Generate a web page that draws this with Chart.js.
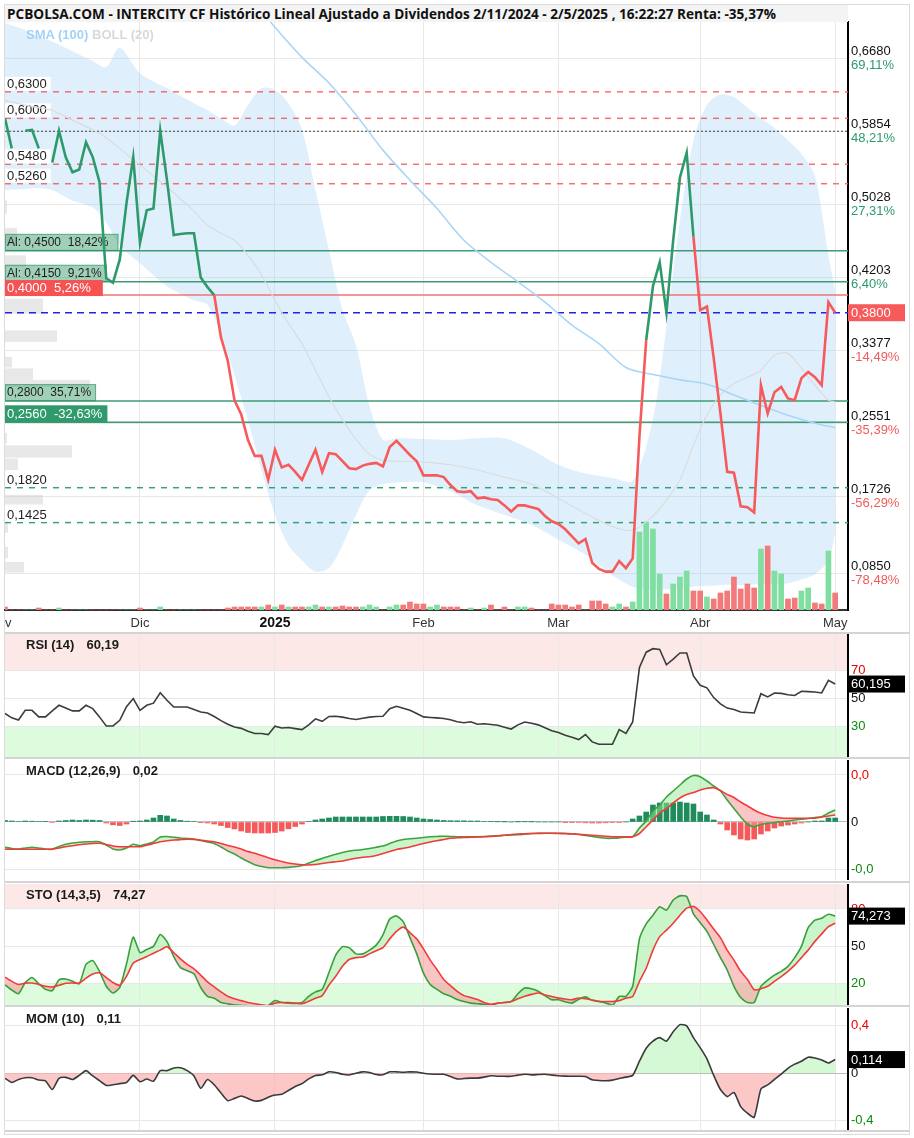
<!DOCTYPE html>
<html>
<head>
<meta charset="utf-8">
<script src="https://cdn.jsdelivr.net/npm/chart.js@4.4.1/dist/chart.umd.min.js"></script>
<style>
  body { margin: 0; background: #fff; }
  #wrap { position: relative; width: 914px; height: 1138px; overflow: hidden; }
  #wrap canvas { position: absolute; left: 0; }
  #frame { position: absolute; left: 4px; top: 4px; width: 904px; height: 1129px; border: 1px solid #dcdcdc; }
  #title { position: absolute; left: 5px; top: 5px; width: 841px; height: 17px; background: #f4f4f4;
           font: bold 13.6px "Open Sans", "Liberation Sans", sans-serif; line-height: 17px; padding-left: 2px;
           color: #111; white-space: nowrap; overflow: hidden; z-index: 2; }
  #legend { position: absolute; left: 26px; top: 27px; font: bold 13px "Liberation Sans", Arial, sans-serif; z-index: 2; }
  .sep { position: absolute; left: 5px; width: 905px; height: 2px; background: #d4d4d4; z-index: 2; }
</style>
</head>
<body>
<div id="wrap">
  <div id="frame"></div>
  <div id="title">PCBOLSA.COM - INTERCITY CF Histórico Lineal Ajustado a Dividendos 2/11/2024 - 2/5/2025 , 16:22:27 Renta: -35,37%</div>
  <canvas id="priceChart" width="914" height="632" style="top:0"></canvas>
  <div id="legend"><span style="color:#a3d2f6">SMA (100)</span> <span style="color:#d9d9d9">BOLL (20)</span></div>
  <div class="sep" style="top:632px"></div>
  <canvas id="rsiChart" width="914" height="123" style="top:634px"></canvas>
  <div class="sep" style="top:757px"></div>
  <canvas id="macdChart" width="914" height="120" style="top:760px"></canvas>
  <div class="sep" style="top:881px"></div>
  <canvas id="stoChart" width="914" height="121" style="top:884px"></canvas>
  <div class="sep" style="top:1005px"></div>
  <canvas id="momChart" width="914" height="122" style="top:1008px"></canvas>
  <div class="sep" style="top:1130px"></div>
</div>
<script>
// ---------- data (one value per trading session, 4 Nov 2024 -> 2 May 2025) ----------
const price = [
  0.600, 0.566, null, 0.586, 0.587, 0.566, null, 0.550, 0.586, 0.556,
  0.539, 0.542, 0.573, 0.556, 0.528, 0.419, 0.414, 0.440, 0.504, 0.556,
  0.459, 0.496, 0.498, 0.586, 0.530, 0.468, 0.469, 0.470, 0.470, 0.420,
  0.409, 0.400, 0.352, 0.326, 0.281, 0.265, 0.236, 0.218, 0.218, 0.191,
  0.225, 0.205, 0.208, 0.200, 0.191, 0.208, 0.225, 0.200, 0.221, 0.220,
  0.212, 0.204, 0.203, 0.207, 0.209, 0.210, 0.206, 0.228, 0.235, 0.227,
  0.219, 0.212, 0.196, 0.196, 0.196, 0.194, 0.185, 0.178, 0.177, 0.178,
  0.170, 0.171, 0.169, 0.168, 0.162, 0.155, 0.162, 0.162, 0.160, 0.158,
  0.150, 0.144, 0.141, 0.135, 0.127, 0.119, 0.124, 0.097, 0.090, 0.087,
  0.087, 0.099, 0.091, 0.102, 0.240, 0.349, 0.410, 0.437, 0.380, 0.462,
  0.533, 0.561, 0.466, 0.383, 0.387, 0.329, 0.266, 0.200, 0.199, 0.161,
  0.160, 0.154, 0.298, 0.266, 0.290, 0.296, 0.283, 0.281, 0.306, 0.313,
  0.307, 0.298, 0.392, 0.380
];
const volume = [
  3, 0, 0, 0, 0, 2, 0, 0, 2, 0,
  0, 0, 0, 0, 0, 0, 0, 0, 0, 0,
  2, 0, 0, 3, 0, 0, 0, 0, 0, 0,
  0, 0, 0, 2, 3, 3, 3, 3, 3, 5,
  3, 5, 3, 3, 3, 3, 5, 3, 3, 3,
  4, 3, 3, 3, 5, 3, 0, 3, 5, 5,
  8, 6, 6, 3, 5, 3, 3, 3, 0, 2,
  0, 2, 5, 0, 3, 0, 3, 3, 2, 0,
  0, 6, 5, 5, 3, 5, 0, 9, 9, 6,
  3, 6, 3, 8, 78, 88, 81, 36, 16, 26,
  33, 39, 19, 19, 13, 11, 17, 19, 33, 21,
  26, 22, 61, 64, 39, 36, 11, 12, 19, 22,
  7, 6, 59, 17
];

// Bollinger (20) and SMA (100), read at these session indexes
const bandIdx = [0, 3, 5, 7, 10, 13, 15, 17, 20, 24, 28, 30, 32, 34, 36, 38, 40, 42, 44, 46,
  48, 50, 52, 54, 56, 58, 62, 66, 70, 74, 78, 82, 86, 90, 93, 96, 98, 100, 102, 104,
  106, 108, 110, 112, 114, 116, 118, 120, 122, 123];
const bollUpper = [0.708, 0.700, 0.692, 0.687, 0.676, 0.665, 0.658, 0.680, 0.651, 0.634,
  0.617, 0.609, 0.600, 0.592, 0.615, 0.634, 0.632, 0.617, 0.587, 0.519,
  0.451, 0.383, 0.343, 0.275, 0.236, 0.238, 0.237, 0.236, 0.238, 0.238,
  0.225, 0.208, 0.198, 0.193, 0.190, 0.260, 0.365, 0.485, 0.575, 0.615,
  0.627, 0.624, 0.612, 0.600, 0.589, 0.575, 0.560, 0.535, 0.445, 0.405];
const bollLower = [0.519, 0.520, 0.521, 0.519, 0.507, 0.499, 0.482, 0.456, 0.436, 0.410,
  0.394, 0.389, 0.355, 0.309, 0.258, 0.202, 0.151, 0.117, 0.100, 0.087,
  0.091, 0.117, 0.151, 0.179, 0.186, 0.188, 0.188, 0.178, 0.162, 0.151,
  0.140, 0.123, 0.106, 0.083, 0.070, 0.066, 0.067, 0.068, 0.070, 0.071,
  0.072, 0.072, 0.072, 0.073, 0.073, 0.074, 0.078, 0.084, 0.100, 0.131];
const bollMid = [0.620, 0.615, 0.612, 0.609, 0.598, 0.587, 0.578, 0.566, 0.547, 0.522,
  0.495, 0.479, 0.470, 0.462, 0.445, 0.423, 0.394, 0.368, 0.345, 0.315,
  0.285, 0.259, 0.237, 0.220, 0.213, 0.212, 0.211, 0.208, 0.202, 0.194,
  0.186, 0.170, 0.153, 0.138, 0.134, 0.150, 0.168, 0.191, 0.230, 0.264,
  0.287, 0.300, 0.307, 0.315, 0.332, 0.334, 0.317, 0.298, 0.281, 0.279];
const smaIdx = [38, 40, 44, 48, 52, 56, 60, 64, 68, 72, 76, 80, 84, 88, 92, 96, 100, 104, 108, 112, 116, 120, 123];
const sma100 = [0.722, 0.703, 0.669, 0.640, 0.604, 0.564, 0.530, 0.498, 0.462, 0.437, 0.415, 0.392,
  0.366, 0.345, 0.318, 0.310, 0.304, 0.299, 0.287, 0.275, 0.264, 0.255, 0.250];

// volume profile at the left edge (price band low / high, volume)
const profileLow  = [0.492, 0.457, 0.432, 0.379, 0.347, 0.318, 0.304, 0.296, 0.232, 0.216, 0.202, 0.163, 0.131, 0.102, 0.086];
const profileHigh = [0.507, 0.476, 0.445, 0.396, 0.360, 0.330, 0.317, 0.304, 0.244, 0.230, 0.215, 0.174, 0.145, 0.115, 0.098];
const profileVol  = [2, 12, 21, 38, 52, 7, 28, 85, 2, 67, 13, 38, 3, 3, 19];

// price levels drawn on the chart
const resistLevels = [0.6300, 0.6000, 0.5480, 0.5260];
const supportLevels = [0.1820, 0.1425];
const refLevel = 0.5854;
const alertLevels = [0.4500, 0.4150, 0.2800, 0.2560];
const alertTexts = ['Al: 0,4500  18,42%', 'Al: 0,4150  9,21%', '0,2800  35,71%', '0,2560  -32,63%'];
const stopLevel = 0.4000;
const stopText = '0,4000  5,26%';
const lastPrice = 0.3800;

// price axis
const priceTicks = [0.6680, 0.5854, 0.5028, 0.4203, 0.3377, 0.2551, 0.1726, 0.0850];
const priceTickPct = ['69,11%', '48,21%', '27,31%', '6,40%', '-14,49%', '-35,39%', '-56,29%', '-78,48%'];

// time axis
const monthStarts = [20, 40, 62, 82, 103, 123];
const monthLabelPos = [-0.75, 20, 40, 62, 82, 103, 123];
const monthLabels = ['Nov', 'Dic', '2025', 'Feb', 'Mar', 'Abr', 'May'];

// RSI (14)
const rsi = [
  39.1, 36.0, 34.5, 41.4, 41.4, 36.7, 36.7, 41.0, 45.0, 43.0,
  41.0, 41.0, 45.0, 42.6, 36.7, 30.2, 30.2, 34.3, 44.0, 49.8,
  41.4, 45.0, 46.5, 54.0, 48.6, 43.8, 43.8, 43.8, 42.0, 40.2,
  39.5, 37.0, 34.0, 31.5, 29.5, 28.5, 26.5, 24.8, 24.8, 24.0,
  30.0, 28.8, 29.1, 28.3, 27.6, 31.0, 35.3, 33.5, 37.0, 37.1,
  36.5, 35.5, 34.8, 35.7, 36.5, 37.0, 37.1, 42.5, 44.3, 42.8,
  41.4, 39.1, 36.7, 36.3, 36.0, 35.5, 34.6, 33.2, 32.5, 33.2,
  31.4, 31.8, 31.3, 30.7, 29.3, 28.0, 31.0, 33.0, 32.2, 31.0,
  28.9, 26.8, 25.5, 23.5, 22.1, 20.5, 24.1, 18.8, 17.1, 17.1,
  17.1, 27.6, 24.8, 33.1, 72.0, 83.0, 85.5, 85.0, 74.0, 78.0,
  82.4, 82.4, 66.0, 59.3, 57.5, 50.5, 46.0, 43.0, 42.0, 40.2,
  39.8, 39.5, 53.3, 51.0, 53.8, 53.5, 52.5, 52.0, 55.0, 54.8,
  54.5, 53.8, 62.9, 60.2
];
const rsiTicks = [70, 50, 30];
const rsiTickText = ['70', '50', '30'];

// MACD (12,26,9)
const macdLine = [
  -0.0253, -0.0265, -0.0270, -0.0260, -0.0253, -0.0260, -0.0270, -0.0270, -0.0245, -0.0222,
  -0.0210, -0.0202, -0.0197, -0.0197, -0.0197, -0.0230, -0.0270, -0.0280, -0.0260, -0.0223,
  -0.0237, -0.0220, -0.0200, -0.0150, -0.0145, -0.0153, -0.0160, -0.0165, -0.0170, -0.0185,
  -0.0200, -0.0215, -0.0250, -0.0290, -0.0320, -0.0360, -0.0395, -0.0428, -0.0445, -0.0457,
  -0.0457, -0.0457, -0.0454, -0.0448, -0.0435, -0.0410, -0.0385, -0.0365, -0.0342, -0.0322,
  -0.0305, -0.0290, -0.0282, -0.0275, -0.0265, -0.0252, -0.0240, -0.0215, -0.0190, -0.0175,
  -0.0168, -0.0163, -0.0155, -0.0148, -0.0145, -0.0142, -0.0145, -0.0147, -0.0148, -0.0148,
  -0.0147, -0.0145, -0.0140, -0.0137, -0.0133, -0.0130, -0.0128, -0.0122, -0.0115, -0.0113,
  -0.0113, -0.0113, -0.0113, -0.0113, -0.0118, -0.0125, -0.0135, -0.0145, -0.0155, -0.0163,
  -0.0163, -0.0158, -0.0152, -0.0147, -0.0060, 0.0010, 0.0110, 0.0170, 0.0250, 0.0310,
  0.0370, 0.0430, 0.0465, 0.0453, 0.0410, 0.0360, 0.0310, 0.0220, 0.0135, 0.0050,
  -0.0020, -0.0047, -0.0025, -0.0013, -0.0005, 0.0003, 0.0010, 0.0020, 0.0027, 0.0035,
  0.0045, 0.0053, 0.0090, 0.0120
];
const macdSignal = [
  -0.0273, -0.0273, -0.0273, -0.0273, -0.0273, -0.0273, -0.0273, -0.0273, -0.0260, -0.0247,
  -0.0237, -0.0228, -0.0220, -0.0215, -0.0213, -0.0225, -0.0240, -0.0247, -0.0247, -0.0247,
  -0.0247, -0.0232, -0.0215, -0.0197, -0.0188, -0.0180, -0.0176, -0.0173, -0.0175, -0.0182,
  -0.0190, -0.0197, -0.0215, -0.0235, -0.0250, -0.0270, -0.0295, -0.0313, -0.0335, -0.0357,
  -0.0378, -0.0395, -0.0410, -0.0420, -0.0428, -0.0430, -0.0425, -0.0415, -0.0405, -0.0397,
  -0.0390, -0.0375, -0.0362, -0.0352, -0.0347, -0.0335, -0.0315, -0.0295, -0.0275, -0.0263,
  -0.0250, -0.0232, -0.0215, -0.0200, -0.0187, -0.0175, -0.0163, -0.0158, -0.0155, -0.0153,
  -0.0150, -0.0147, -0.0145, -0.0140, -0.0133, -0.0125, -0.0120, -0.0117, -0.0115, -0.0114,
  -0.0113, -0.0113, -0.0115, -0.0118, -0.0120, -0.0123, -0.0128, -0.0133, -0.0138, -0.0143,
  -0.0147, -0.0148, -0.0148, -0.0147, -0.0115, -0.0047, 0.0020, 0.0090, 0.0135, 0.0190,
  0.0240, 0.0275, 0.0295, 0.0320, 0.0337, 0.0343, 0.0315, 0.0275, 0.0245, 0.0200,
  0.0160, 0.0120, 0.0087, 0.0065, 0.0047, 0.0040, 0.0037, 0.0037, 0.0037, 0.0037,
  0.0038, 0.0050, 0.0060, 0.0070
];
const macdHist = [
  0.0015, 0.0010, 0.0005, 0.0010, 0.0008, 0.0005, 0.0003, -0.0005, 0.0010, 0.0015,
  0.0020, 0.0015, 0.0020, 0.0018, 0.0015, -0.0010, -0.0028, -0.0035, -0.0020, 0.0008,
  0.0010, 0.0020, 0.0040, 0.0067, 0.0060, 0.0030, 0.0015, 0.0008, 0.0005, -0.0003,
  -0.0010, -0.0020, -0.0035, -0.0055, -0.0070, -0.0090, -0.0105, -0.0110, -0.0110, -0.0110,
  -0.0105, -0.0090, -0.0068, -0.0045, -0.0020, 0.0005, 0.0020, 0.0030, 0.0040, 0.0050,
  0.0050, 0.0050, 0.0050, 0.0050, 0.0050, 0.0050, 0.0055, 0.0057, 0.0057, 0.0055,
  0.0050, 0.0040, 0.0030, 0.0025, 0.0020, 0.0015, 0.0013, 0.0012, 0.0012, 0.0010,
  0.0010, 0.0005, 0.0003, 0.0002, 0.0001, 0, 0.0001, 0.0002, 0.0001, 0,
  0, 0, 0, -0.0002, -0.0003, -0.0005, -0.0008, -0.0010, -0.0010, -0.0008,
  -0.0006, -0.0004, 0, 0.0030, 0.0060, 0.0100, 0.0170, 0.0190, 0.0190, 0.0190,
  0.0200, 0.0190, 0.0180, 0.0100, 0.0070, 0.0020, -0.0020, -0.0080, -0.0130, -0.0170,
  -0.0180, -0.0170, -0.0120, -0.0090, -0.0060, -0.0040, -0.0030, -0.0020, -0.0010, 0,
  0.0010, 0.0010, 0.0040, 0.0040
];
const macdTicks = [0.047, 0, -0.047];
const macdTickText = ['0,0', '0', '-0,0'];

// STO (14,3,5)
const stoK = [
  19.2, 15.0, 12.0, 21.0, 25.0, 20.0, 15.5, 14.5, 23.2, 23.8,
  22.0, 20.0, 35.5, 38.6, 30.0, 18.0, 12.6, 17.0, 36.0, 57.4,
  45.0, 47.5, 50.0, 59.5, 53.8, 41.8, 33.0, 30.5, 28.0, 17.0,
  10.0, 8.4, 5.0, 4.0, 3.1, 2.7, 2.4, 2.4, 2.4, 2.6,
  6.6, 5.0, 4.5, 4.2, 5.0, 10.0, 13.5, 15.5, 29.0, 43.0,
  49.8, 49.0, 44.0, 44.0, 47.0, 51.0, 59.2, 72.0, 74.4, 69.8,
  57.0, 44.0, 28.6, 19.5, 15.5, 12.0, 10.0, 7.5, 5.8, 4.5,
  4.0, 3.5, 3.2, 4.4, 5.0, 5.8, 12.0, 16.6, 16.0, 14.0,
  10.5, 7.2, 7.2, 5.5, 4.5, 7.5, 9.5, 6.8, 5.7, 4.5,
  2.6, 9.8, 10.0, 18.0, 56.0, 68.0, 75.0, 81.8, 79.0, 87.2,
  90.5, 90.0, 76.0, 69.0, 62.0, 51.5, 41.0, 31.0, 18.0, 9.0,
  5.0, 5.0, 18.0, 23.0, 27.0, 30.0, 34.0, 41.0, 50.0, 65.0,
  71.0, 72.6, 75.8, 74.27
];
const stoD = [
  25.4, 22.0, 19.5, 20.5, 20.6, 19.5, 18.0, 17.4, 18.8, 20.4,
  20.6, 20.6, 24.5, 27.8, 28.8, 25.0, 21.0, 18.8, 26.0, 36.6,
  39.5, 41.8, 44.5, 47.0, 49.8, 45.0, 40.0, 35.5, 32.0, 27.0,
  21.5, 17.5, 13.5, 10.0, 8.0, 6.5, 5.0, 4.0, 3.2, 2.4,
  4.5, 5.0, 5.0, 4.6, 4.0, 6.0, 8.5, 10.5, 19.0, 26.0,
  34.0, 39.5, 41.0, 41.4, 44.0, 46.5, 49.0, 56.0, 62.0, 65.4,
  61.0, 56.0, 48.0, 39.0, 31.5, 23.5, 18.5, 14.0, 10.5, 9.0,
  7.5, 5.0, 3.5, 4.5, 5.0, 5.8, 8.0, 10.0, 11.5, 12.6,
  11.0, 9.8, 8.5, 7.8, 7.2, 8.6, 8.0, 7.0, 6.0, 5.8,
  5.8, 6.5, 8.5, 9.8, 22.0, 32.5, 47.0, 57.8, 63.0, 68.6,
  75.0, 80.6, 82.0, 78.0, 71.2, 64.0, 57.0, 47.0, 39.0, 30.0,
  23.5, 15.2, 16.0, 18.0, 22.0, 25.8, 30.0, 35.0, 41.0, 47.0,
  54.0, 60.0, 65.8, 68.6
];
const stoTicks = [80, 50, 20];
const stoTickText = ['80', '50', '20'];

// MOM (10)
const mom = [
  -0.045, -0.080, -0.055, -0.040, -0.040, -0.060, -0.066, -0.140, -0.045, -0.037,
  -0.055, -0.020, 0.020, -0.025, -0.065, -0.105, -0.100, -0.090, -0.080, -0.020,
  -0.074, -0.051, -0.070, 0.020, 0.020, 0.043, 0.045, 0.020, -0.025, -0.130,
  -0.055, -0.100, -0.170, -0.235, -0.215, -0.195, -0.216, -0.237, -0.232, -0.205,
  -0.186, -0.180, -0.148, -0.115, -0.090, -0.050, -0.021, -0.015, 0.010, 0.005,
  -0.011, -0.017, -0.002, 0.010, 0.005, -0.012, -0.015, 0.010, 0.010, 0.007,
  0.010, 0.008, -0.002, -0.008, -0.010, -0.011, -0.030, -0.050, -0.047, -0.043,
  -0.043, -0.035, -0.023, -0.027, -0.028, -0.028, -0.018, -0.010, -0.016, -0.013,
  -0.010, -0.018, -0.023, -0.026, -0.028, -0.028, -0.030, -0.058, -0.064, -0.066,
  -0.060, -0.047, -0.035, -0.020, 0.100, 0.210, 0.270, 0.300, 0.270, 0.350,
  0.410, 0.400, 0.300, 0.215, 0.120, -0.020, -0.140, -0.200, -0.165, -0.285,
  -0.340, -0.375, -0.135, -0.100, -0.055, -0.010, 0.040, 0.075, 0.100, 0.134,
  0.128, 0.110, 0.085, 0.114
];
const momTicks = [0.4, 0, -0.4];
const momTickText = ['0,4', '0', '-0,4'];

// ---------- styles ----------
const FONT = '"Liberation Sans", Arial, sans-serif';
const UP = '#2e9a6c', DOWN = '#f65a5a';
const greenRuns = [[0, 31], [95, 102]];
const X_MIN = 0, X_MAX = 124.9;
const AXIS_W = 66;

const fmt4 = v => v.toFixed(4).replace('.', ',');
const seqPoints = vals => vals.map((v, i) => ({ x: i, y: v }));
const idxPoints = (idx, vals) => idx.map((x, k) => ({ x: x, y: vals[k] }));

function xScale(h, border) {
  return {
    type: 'linear', min: X_MIN, max: X_MAX, offset: false,
    afterBuildTicks: s => { s.ticks = monthStarts.map(v => ({ value: v })); },
    afterFit: s => { s.height = h; },
    ticks: { display: false },
    grid: { color: '#e8e8e8', drawTicks: false, offset: false },
    border: border || { display: false }
  };
}

function yScale(min, max, ticks, zeroDark) {
  return {
    type: 'linear', position: 'right', min: min, max: max,
    afterBuildTicks: s => { s.ticks = ticks.map(v => ({ value: v })); },
    afterFit: s => { s.width = AXIS_W; },
    ticks: { display: false },
    grid: { drawTicks: false, color: c => (zeroDark && c.tick && c.tick.value === 0) ? '#bdbdbd' : '#e8e8e8' },
    border: { display: true, color: '#000', width: 2 }
  };
}

function hline(ctx, a, py, color, width, dash) {
  ctx.beginPath();
  ctx.setLineDash(dash || []);
  ctx.strokeStyle = color;
  ctx.lineWidth = width;
  ctx.moveTo(a.left, py);
  ctx.lineTo(a.right, py);
  ctx.stroke();
  ctx.setLineDash([]);
}

function valueBox(ctx, py, text, bg) {
  ctx.fillStyle = bg;
  ctx.fillRect(848, py - 8.5, 57, 17);
  ctx.fillStyle = '#fff';
  ctx.font = '13px ' + FONT;
  ctx.textAlign = 'left';
  ctx.textBaseline = 'middle';
  ctx.fillText(text, 851, py + 0.5);
}

// ---------- main price chart decorations ----------
const BAND_LOWER = 5;
const priceDecor = {
  id: 'priceDecor',
  beforeDatasetsDraw(chart) {
    const { ctx, chartArea: a, scales: { y } } = chart;
    ctx.save();
    ctx.fillStyle = 'rgba(205,205,205,0.45)';
    profileVol.forEach((v, k) => {
      const top = y.getPixelForValue(profileHigh[k]);
      const bot = y.getPixelForValue(profileLow[k]);
      ctx.fillRect(a.left, top, v, bot - top);
    });
    ctx.restore();
  },
  afterDatasetDraw(chart, args) {
    if (args.index !== BAND_LOWER) return;
    const { ctx, chartArea: a, scales: { y } } = chart;
    ctx.save();
    ctx.beginPath();
    ctx.rect(a.left, a.top, a.right - a.left, a.bottom - a.top);
    ctx.clip();
    resistLevels.forEach(v => hline(ctx, a, y.getPixelForValue(v), 'rgba(240,90,90,0.85)', 1.5, [6, 6]));
    supportLevels.forEach(v => hline(ctx, a, y.getPixelForValue(v), '#35a377', 1.5, [6, 6]));
    hline(ctx, a, y.getPixelForValue(refLevel), '#444', 1, [2, 2]);
    alertLevels.forEach(v => hline(ctx, a, y.getPixelForValue(v), '#3d9c74', 1.5));
    hline(ctx, a, y.getPixelForValue(stopLevel), '#f27474', 1.5);
    hline(ctx, a, y.getPixelForValue(lastPrice), '#2424e6', 1.5, [7, 5]);

    // level labels
    ctx.textAlign = 'left';
    ctx.textBaseline = 'middle';
    ctx.font = '13px ' + FONT;
    resistLevels.concat(supportLevels).forEach(v => {
      const py = y.getPixelForValue(v);
      const t = fmt4(v);
      const w = ctx.measureText(t).width + 6;
      ctx.fillStyle = '#fff';
      ctx.fillRect(a.left, py - 15, w, 14);
      ctx.fillStyle = '#222';
      ctx.fillText(t, a.left + 2, py - 7.5);
    });
    alertLevels.forEach((v, k) => {
      const py = y.getPixelForValue(v);
      const solid = k === alertLevels.length - 1;
      ctx.font = (solid ? '13px ' : '12px ') + FONT;
      const w = ctx.measureText(alertTexts[k]).width + (k === 0 ? 12 : 7);
      ctx.fillStyle = solid ? '#2f9a6c' : 'rgba(46,150,100,0.45)';
      ctx.fillRect(a.left, py - 17, w, 17);
      if (!solid) {
        ctx.strokeStyle = 'rgba(46,150,100,0.6)';
        ctx.lineWidth = 1;
        ctx.strokeRect(a.left + 0.5, py - 16.5, w - 1, 16);
      }
      ctx.fillStyle = solid ? '#fff' : '#1d1d1d';
      ctx.fillText(alertTexts[k], a.left + 2, py - 8);
    });
    const ps = y.getPixelForValue(stopLevel);
    ctx.font = '13px ' + FONT;
    ctx.fillStyle = '#f65252';
    ctx.fillRect(a.left, ps - 15, ctx.measureText(stopText).width + 14, 16);
    ctx.fillStyle = '#fff';
    ctx.fillText(stopText, a.left + 2, ps - 6.5);
    ctx.restore();
  },
  afterDraw(chart) {
    const { ctx, chartArea: a, scales: { x, y } } = chart;
    ctx.save();
    ctx.textAlign = 'left';
    ctx.textBaseline = 'middle';
    ctx.font = '13px ' + FONT;
    priceTicks.forEach((v, k) => {
      const py = y.getPixelForValue(v);
      ctx.fillStyle = '#111';
      ctx.fillText(fmt4(v), 851, py - 7);
      ctx.fillStyle = priceTickPct[k].charAt(0) === '-' ? '#f25a5a' : '#2e9a6c';
      ctx.fillText(priceTickPct[k], 851, py + 7);
    });
    valueBox(ctx, y.getPixelForValue(lastPrice), fmt4(lastPrice), '#f65a5a');

    ctx.beginPath();
    ctx.rect(a.left, a.bottom, a.right - a.left + 40, 30);
    ctx.clip();
    ctx.textAlign = 'center';
    monthLabels.forEach((t, k) => {
      ctx.font = (t === '2025' ? 'bold 14px ' : '13px ') + FONT;
      ctx.fillStyle = t === '2025' ? '#111' : '#333';
      ctx.fillText(t, x.getPixelForValue(monthLabelPos[k]), 623);
    });
    ctx.restore();
  }
};

new Chart(document.getElementById('priceChart'), {
  type: 'line',
  data: {
    datasets: [
      {
        data: seqPoints(price), order: 0, borderWidth: 2.6, pointRadius: 0, spanGaps: false,
        segment: {
          borderColor: c => greenRuns.some(r => c.p0DataIndex >= r[0] && c.p0DataIndex < r[1]) ? UP : DOWN
        }
      },
      { data: idxPoints(smaIdx, sma100), order: 1, borderColor: '#a9d6f6', borderWidth: 1.6, pointRadius: 0, tension: 0.3 },
      { data: idxPoints(bandIdx, bollMid), order: 2, borderColor: '#dcdcdc', borderWidth: 1.2, pointRadius: 0, tension: 0.3 },
      {
        type: 'bar', yAxisID: 'yv', data: seqPoints(volume), order: 3, barThickness: 5,
        backgroundColor: c => {
          const i = c.dataIndex;
          let p = i - 1;
          while (p >= 0 && price[p] == null) p--;
          return (i > 0 && price[i] != null && p >= 0 && price[i] >= price[p]) ? '#7fdea0' : '#f27a7a';
        }
      },
      { data: idxPoints(bandIdx, bollUpper), order: 4, borderWidth: 0, borderColor: 'rgba(0,0,0,0)', pointRadius: 0, tension: 0.3, fill: false },
      { data: idxPoints(bandIdx, bollLower), order: 5, borderWidth: 0, borderColor: 'rgba(0,0,0,0)', pointRadius: 0, tension: 0.3,
        fill: '-1', backgroundColor: 'rgba(150,205,245,0.3)' }
    ]
  },
  options: {
    responsive: false, animation: false, devicePixelRatio: 1,
    layout: { padding: { left: 5, top: 22, right: 0, bottom: 0 } },
    plugins: { legend: { display: false }, tooltip: { enabled: false } },
    scales: {
      x: xScale(22, { display: true, color: '#333', width: 2 }),
      y: yScale(0.0436, 0.709, priceTicks, false),
      yv: { display: false, min: 0, max: 588 }
    }
  },
  plugins: [priceDecor]
});

// ---------- indicator panels ----------
const panelDecor = {
  id: 'panelDecor',
  beforeDraw(chart, args, o) {
    const { ctx, chartArea: a, scales: { y } } = chart;
    ctx.save();
    (o.bands || []).forEach(b => {
      const t = y.getPixelForValue(b.to), btm = y.getPixelForValue(b.from);
      ctx.fillStyle = b.color;
      ctx.fillRect(a.left, t, a.right - a.left, btm - t);
    });
    ctx.restore();
  },
  afterDraw(chart, args, o) {
    const { ctx, chartArea: a, scales: { y } } = chart;
    ctx.save();
    ctx.textAlign = 'left';
    ctx.textBaseline = 'middle';
    ctx.font = '13px ' + FONT;
    const colors = ['#e60000', '#111', '#0a8a0a'];
    o.ticks.forEach((v, k) => {
      ctx.fillStyle = colors[k];
      ctx.fillText(o.tickText[k], 851, y.getPixelForValue(v));
    });
    if (o.boxText) valueBox(ctx, y.getPixelForValue(o.boxValue), o.boxText, '#000');
    ctx.font = 'bold 13px ' + FONT;
    ctx.fillStyle = '#1a1a1a';
    ctx.fillText(o.name, 26, a.top + 11);
    ctx.fillText(o.value, 26 + ctx.measureText(o.name).width + 12, a.top + 11);
    ctx.restore();
  }
};

function panelChart(id, datasets, yMin, yMax, decor, zeroDark) {
  return new Chart(document.getElementById(id), {
    type: 'line',
    data: { datasets: datasets },
    options: {
      responsive: false, animation: false, devicePixelRatio: 1,
      layout: { padding: { left: 5, top: 0, right: 0, bottom: 0 } },
      plugins: { legend: { display: false }, tooltip: { enabled: false }, panelDecor: decor },
      elements: { point: { radius: 0 }, line: { tension: 0.2, borderWidth: 1.6 } },
      scales: { x: xScale(0), y: yScale(yMin, yMax, decor.ticks, zeroDark) }
    },
    plugins: [panelDecor]
  });
}

const PINK = '#fde8e8', MINT = '#ddfbdd';
const FILL_UP = 'rgba(150,235,150,0.5)', FILL_DN = 'rgba(245,150,150,0.55)';

panelChart('rsiChart', [
  { data: seqPoints(rsi), borderColor: '#3c3c3c', tension: 0 }
], 8, 96, {
  bands: [{ from: 70, to: 96, color: PINK }, { from: 8, to: 30, color: MINT }],
  ticks: rsiTicks, tickText: rsiTickText,
  boxValue: rsi[rsi.length - 1], boxText: '60,195', name: 'RSI (14)', value: '60,19'
});

panelChart('macdChart', [
  { type: 'bar', data: seqPoints(macdHist), order: 3, barThickness: 5,
    backgroundColor: c => (c.raw && c.raw.y < 0) ? '#f55a5a' : '#1f8c5c' },
  { data: seqPoints(macdLine), order: 2, borderColor: '#3ea33e', fill: { target: 2, above: FILL_UP, below: FILL_DN } },
  { data: seqPoints(macdSignal), order: 1, borderColor: '#f23a3a' }
], -0.058, 0.062, {
  ticks: macdTicks, tickText: macdTickText,
  boxValue: null, boxText: '', name: 'MACD (12,26,9)', value: '0,02'
}, true);

panelChart('stoChart', [
  { data: seqPoints(stoK), order: 2, borderColor: '#3a9e3a', fill: { target: 1, above: FILL_UP, below: FILL_DN } },
  { data: seqPoints(stoD), order: 1, borderColor: '#f23a3a' }
], 3, 100, {
  bands: [{ from: 80, to: 100, color: PINK }, { from: 3, to: 20, color: MINT }],
  ticks: stoTicks, tickText: stoTickText,
  boxValue: stoK[stoK.length - 1], boxText: '74,273', name: 'STO (14,3,5)', value: '74,27'
});

panelChart('momChart', [
  { data: seqPoints(mom), borderColor: '#3a3a3a', fill: { target: { value: 0 }, above: 'rgba(195,245,195,0.7)', below: 'rgba(250,180,180,0.75)' } }
], -0.483, 0.551, {
  ticks: momTicks, tickText: momTickText,
  boxValue: mom[mom.length - 1], boxText: '0,114', name: 'MOM (10)', value: '0,11'
}, true);
</script>
</body>
</html>
